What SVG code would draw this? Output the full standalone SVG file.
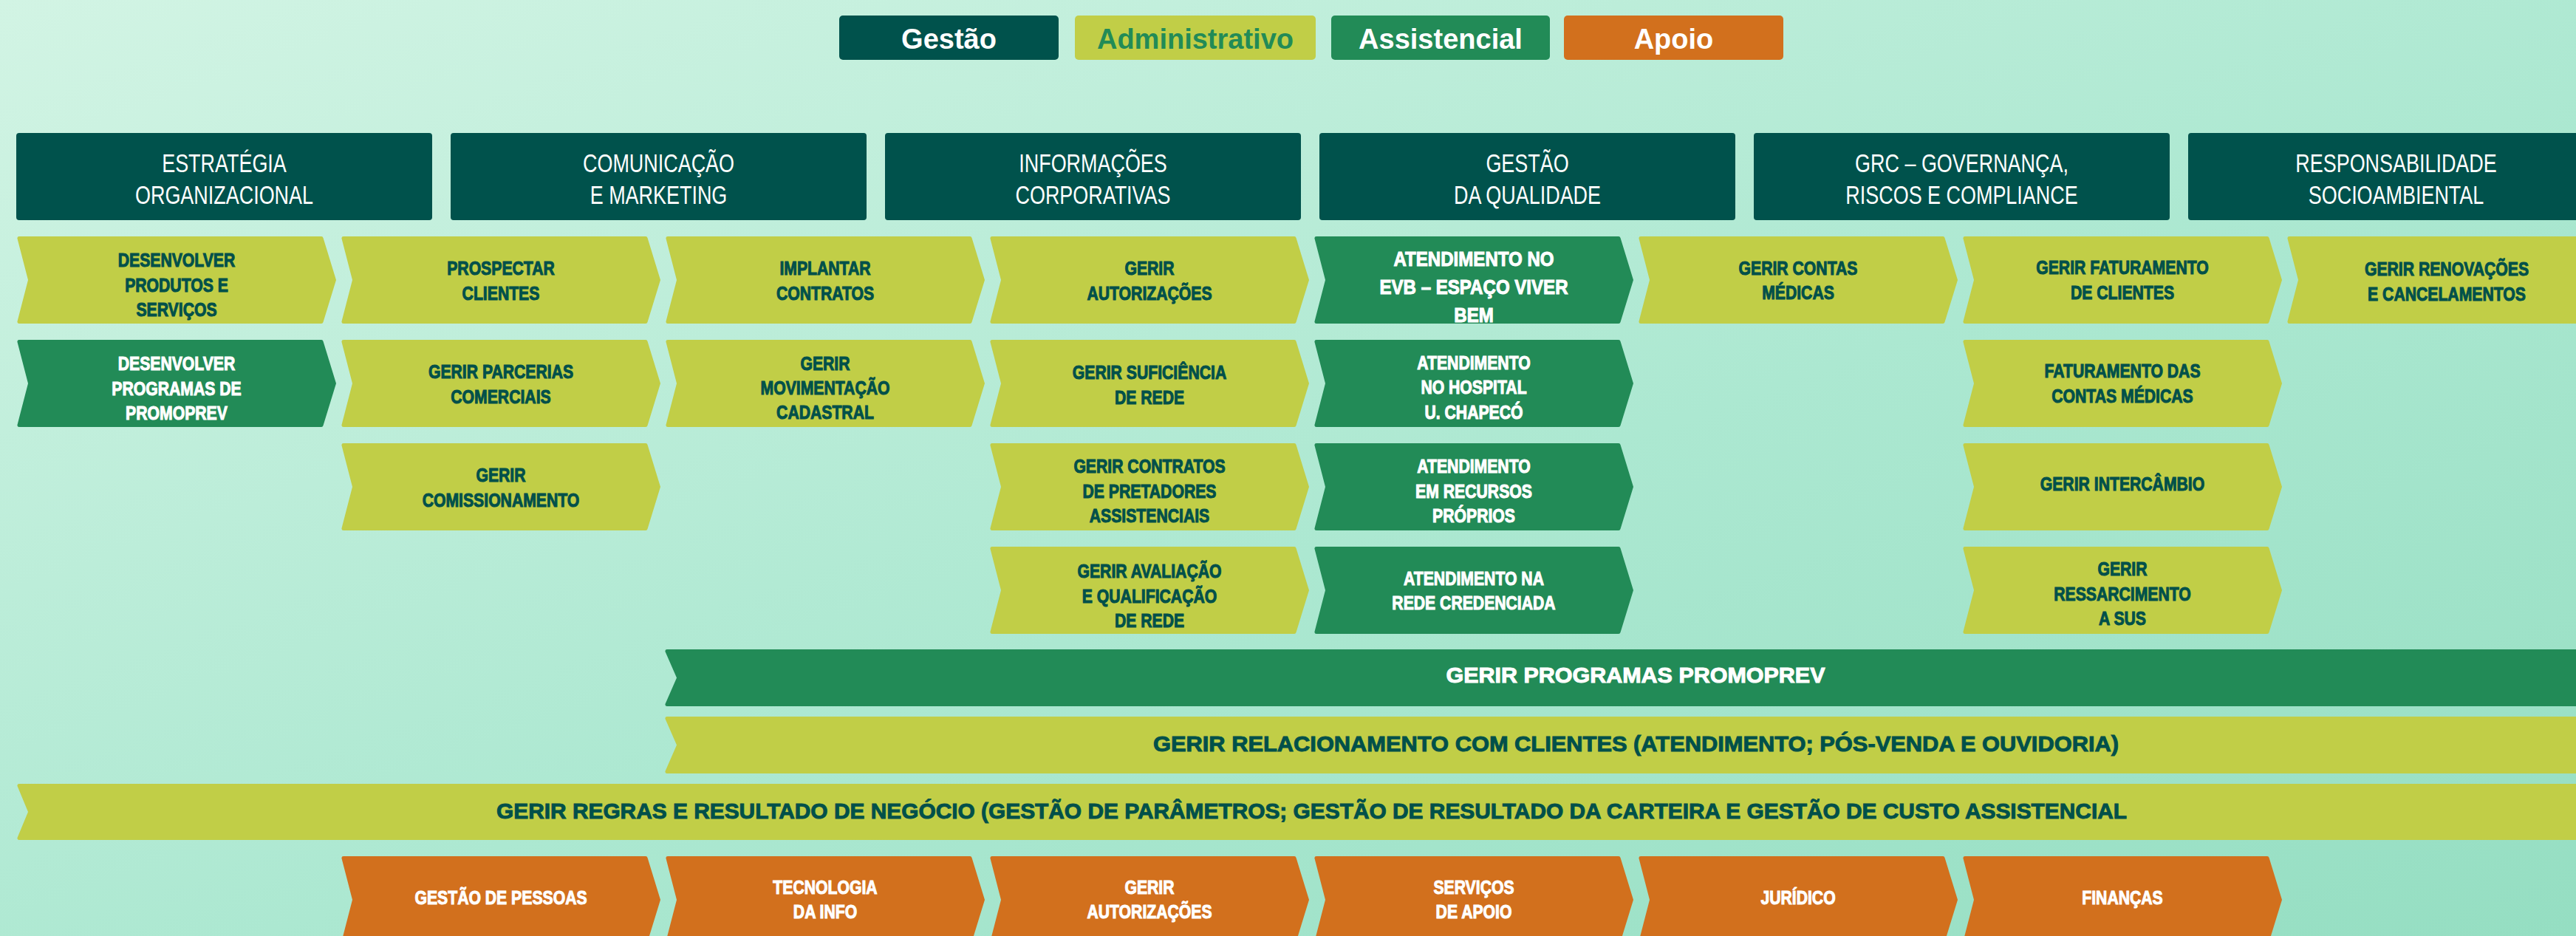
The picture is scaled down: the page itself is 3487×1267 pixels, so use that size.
<svg xmlns="http://www.w3.org/2000/svg" xmlns:xlink="http://www.w3.org/1999/xlink" width="3487" height="1267" viewBox="0 0 3487 1267">
<defs>
<linearGradient id="bg" x1="0" y1="0" x2="1" y2="1">
<stop offset="0" stop-color="#d2f4e4"/>
<stop offset="0.55" stop-color="#ace8d1"/>
<stop offset="1" stop-color="#95dec2"/>
</linearGradient>
<path id="chev" d="M3,0 H412 Q414,0 414.5,2 L432,59 L414.5,116 Q414,118 412,118 H3 Q0,118 0.5,115 L15,59 L0.5,3 Q0,0 3,0 Z"/>
<style>
.gest{fill:#00524c}
.adm{fill:#c1ce47}
.ass{fill:#228b57}
.apo{fill:#d2701d}
.lg{font-family:"Liberation Sans",Arial,sans-serif;font-weight:bold;font-size:38px;text-anchor:middle}
.hd{font-family:"Liberation Sans",Arial,sans-serif;font-size:35px;fill:#ffffff;text-anchor:middle}
.ct{font-family:"Liberation Sans",Arial,sans-serif;font-weight:bold;font-size:26.5px;text-anchor:middle;stroke-width:1.1px}
.bt{font-family:"Liberation Sans",Arial,sans-serif;font-weight:bold;font-size:30px;text-anchor:middle;stroke-width:1px}
.dk{fill:#01504a;stroke:#01504a}
.wh{fill:#ffffff;stroke:#ffffff}
.lg.wh{stroke:none}
</style>
</defs>
<rect x="0" y="0" width="3487" height="1267" fill="url(#bg)"/>

<g id="legend">
<g id="legend-gestao"><rect class="gest" x="1136" y="21" width="297" height="60" rx="5"/><text class="lg wh" x="1284.5" y="66">Gestão</text></g>
<g id="legend-administrativo"><rect class="adm" x="1455" y="21" width="326" height="60" rx="5"/><text class="lg" fill="#228b57" x="1618" y="66">Administrativo</text></g>
<g id="legend-assistencial"><rect class="ass" x="1802" y="21" width="296" height="60" rx="5"/><text class="lg wh" x="1950" y="66">Assistencial</text></g>
<g id="legend-apoio"><rect class="apo" x="2117" y="21" width="297" height="60" rx="5"/><text class="lg wh" x="2265.5" y="66">Apoio</text></g>
</g>

<g id="headers">
<g id="h-estrategia"><rect class="gest" x="22" y="180" width="563" height="118" rx="4"/><g transform="translate(303.5 0) scale(0.77 1)"><text class="hd"><tspan x="0" y="233">ESTRATÉGIA</tspan><tspan x="0" y="276">ORGANIZACIONAL</tspan></text></g></g>
<g id="h-comunicacao"><rect class="gest" x="610" y="180" width="563" height="118" rx="4"/><g transform="translate(891.5 0) scale(0.77 1)"><text class="hd"><tspan x="0" y="233">COMUNICAÇÃO</tspan><tspan x="0" y="276">E MARKETING</tspan></text></g></g>
<g id="h-informacoes"><rect class="gest" x="1198" y="180" width="563" height="118" rx="4"/><g transform="translate(1479.5 0) scale(0.77 1)"><text class="hd"><tspan x="0" y="233">INFORMAÇÕES</tspan><tspan x="0" y="276">CORPORATIVAS</tspan></text></g></g>
<g id="h-qualidade"><rect class="gest" x="1786" y="180" width="563" height="118" rx="4"/><g transform="translate(2067.5 0) scale(0.77 1)"><text class="hd"><tspan x="0" y="233">GESTÃO</tspan><tspan x="0" y="276">DA QUALIDADE</tspan></text></g></g>
<g id="h-grc"><rect class="gest" x="2374" y="180" width="563" height="118" rx="4"/><g transform="translate(2655.5 0) scale(0.77 1)"><text class="hd"><tspan x="0" y="233">GRC – GOVERNANÇA,</tspan><tspan x="0" y="276">RISCOS E COMPLIANCE</tspan></text></g></g>
<g id="h-responsabilidade"><rect class="gest" x="2962" y="180" width="563" height="118" rx="4"/><g transform="translate(3243.5 0) scale(0.77 1)"><text class="hd"><tspan x="0" y="233">RESPONSABILIDADE</tspan><tspan x="0" y="276">SOCIOAMBIENTAL</tspan></text></g></g>
</g>

<g id="processes">
<g id="p-desenvolver-produtos"><use href="#chev" class="adm" x="23" y="320"/><g transform="translate(239 0) scale(0.8 1)"><text class="ct dk"><tspan x="0" y="361">DESENVOLVER</tspan><tspan x="0" y="395">PRODUTOS E</tspan><tspan x="0" y="428">SERVIÇOS</tspan></text></g></g>
<g id="p-desenvolver-programas"><use href="#chev" class="ass" x="23" y="460"/><g transform="translate(239 0) scale(0.8 1)"><text class="ct wh"><tspan x="0" y="501">DESENVOLVER</tspan><tspan x="0" y="535">PROGRAMAS DE</tspan><tspan x="0" y="568">PROMOPREV</tspan></text></g></g>

<g id="p-prospectar"><use href="#chev" class="adm" x="462" y="320"/><g transform="translate(678 0) scale(0.8 1)"><text class="ct dk"><tspan x="0" y="372">PROSPECTAR</tspan><tspan x="0" y="406">CLIENTES</tspan></text></g></g>
<g id="p-parcerias"><use href="#chev" class="adm" x="462" y="460"/><g transform="translate(678 0) scale(0.8 1)"><text class="ct dk"><tspan x="0" y="512">GERIR PARCERIAS</tspan><tspan x="0" y="546">COMERCIAIS</tspan></text></g></g>
<g id="p-comissionamento"><use href="#chev" class="adm" x="462" y="600"/><g transform="translate(678 0) scale(0.8 1)"><text class="ct dk"><tspan x="0" y="652">GERIR</tspan><tspan x="0" y="686">COMISSIONAMENTO</tspan></text></g></g>

<g id="p-implantar"><use href="#chev" class="adm" x="901" y="320"/><g transform="translate(1117 0) scale(0.8 1)"><text class="ct dk"><tspan x="0" y="372">IMPLANTAR</tspan><tspan x="0" y="406">CONTRATOS</tspan></text></g></g>
<g id="p-movimentacao"><use href="#chev" class="adm" x="901" y="460"/><g transform="translate(1117 0) scale(0.8 1)"><text class="ct dk"><tspan x="0" y="501">GERIR</tspan><tspan x="0" y="534">MOVIMENTAÇÃO</tspan><tspan x="0" y="567">CADASTRAL</tspan></text></g></g>

<g id="p-autorizacoes"><use href="#chev" class="adm" x="1340" y="320"/><g transform="translate(1556 0) scale(0.8 1)"><text class="ct dk"><tspan x="0" y="372">GERIR</tspan><tspan x="0" y="406">AUTORIZAÇÕES</tspan></text></g></g>
<g id="p-suficiencia"><use href="#chev" class="adm" x="1340" y="460"/><g transform="translate(1556 0) scale(0.8 1)"><text class="ct dk"><tspan x="0" y="513">GERIR SUFICIÊNCIA</tspan><tspan x="0" y="547">DE REDE</tspan></text></g></g>
<g id="p-contratos-prestadores"><use href="#chev" class="adm" x="1340" y="600"/><g transform="translate(1556 0) scale(0.8 1)"><text class="ct dk"><tspan x="0" y="640">GERIR CONTRATOS</tspan><tspan x="0" y="674">DE PRETADORES</tspan><tspan x="0" y="707">ASSISTENCIAIS</tspan></text></g></g>
<g id="p-avaliacao"><use href="#chev" class="adm" x="1340" y="740"/><g transform="translate(1556 0) scale(0.8 1)"><text class="ct dk"><tspan x="0" y="782">GERIR AVALIAÇÃO</tspan><tspan x="0" y="816">E QUALIFICAÇÃO</tspan><tspan x="0" y="849">DE REDE</tspan></text></g></g>

<g id="p-evb"><use href="#chev" class="ass" x="1779" y="320"/><g transform="translate(1995 0) scale(0.86 1)"><text class="ct wh" style="font-size:28px"><tspan x="0" y="360">ATENDIMENTO NO</tspan><tspan x="0" y="398">EVB – ESPAÇO VIVER</tspan><tspan x="0" y="436">BEM</tspan></text></g></g>
<g id="p-hospital"><use href="#chev" class="ass" x="1779" y="460"/><g transform="translate(1995 0) scale(0.8 1)"><text class="ct wh"><tspan x="0" y="500">ATENDIMENTO</tspan><tspan x="0" y="533">NO HOSPITAL</tspan><tspan x="0" y="567">U. CHAPECÓ</tspan></text></g></g>
<g id="p-recursos"><use href="#chev" class="ass" x="1779" y="600"/><g transform="translate(1995 0) scale(0.8 1)"><text class="ct wh"><tspan x="0" y="640">ATENDIMENTO</tspan><tspan x="0" y="674">EM RECURSOS</tspan><tspan x="0" y="707">PRÓPRIOS</tspan></text></g></g>
<g id="p-rede-credenciada"><use href="#chev" class="ass" x="1779" y="740"/><g transform="translate(1995 0) scale(0.8 1)"><text class="ct wh"><tspan x="0" y="792">ATENDIMENTO NA</tspan><tspan x="0" y="825">REDE CREDENCIADA</tspan></text></g></g>

<g id="p-contas-medicas"><use href="#chev" class="adm" x="2218" y="320"/><g transform="translate(2434 0) scale(0.8 1)"><text class="ct dk"><tspan x="0" y="372">GERIR CONTAS</tspan><tspan x="0" y="405">MÉDICAS</tspan></text></g></g>

<g id="p-faturamento-clientes"><use href="#chev" class="adm" x="2657" y="320"/><g transform="translate(2873 0) scale(0.8 1)"><text class="ct dk"><tspan x="0" y="371">GERIR FATURAMENTO</tspan><tspan x="0" y="405">DE CLIENTES</tspan></text></g></g>
<g id="p-faturamento-contas"><use href="#chev" class="adm" x="2657" y="460"/><g transform="translate(2873 0) scale(0.8 1)"><text class="ct dk"><tspan x="0" y="511">FATURAMENTO DAS</tspan><tspan x="0" y="545">CONTAS MÉDICAS</tspan></text></g></g>
<g id="p-intercambio"><use href="#chev" class="adm" x="2657" y="600"/><g transform="translate(2873 0) scale(0.8 1)"><text class="ct dk"><tspan x="0" y="664">GERIR INTERCÂMBIO</tspan></text></g></g>
<g id="p-ressarcimento"><use href="#chev" class="adm" x="2657" y="740"/><g transform="translate(2873 0) scale(0.8 1)"><text class="ct dk"><tspan x="0" y="779">GERIR</tspan><tspan x="0" y="813">RESSARCIMENTO</tspan><tspan x="0" y="846">A SUS</tspan></text></g></g>

<g id="p-renovacoes"><use href="#chev" class="adm" x="3096" y="320"/><g transform="translate(3312 0) scale(0.8 1)"><text class="ct dk"><tspan x="0" y="373">GERIR RENOVAÇÕES</tspan><tspan x="0" y="407">E CANCELAMENTOS</tspan></text></g></g>
</g>

<g id="bands">
<g id="b-promoprev"><path class="ass" d="M903,879 H3540 V956 H903 Q900,956 900.5,953 L916,917.5 L900.5,882 Q900,879 903,879 Z"/><text class="bt wh" x="2214" y="924" textLength="513" lengthAdjust="spacingAndGlyphs">GERIR PROGRAMAS PROMOPREV</text></g>
<g id="b-relacionamento"><path class="adm" d="M903,970 H3540 V1047 H903 Q900,1047 900.5,1044 L916,1008.5 L900.5,973 Q900,970 903,970 Z"/><text class="bt dk" x="2214.5" y="1017" textLength="1307" lengthAdjust="spacingAndGlyphs">GERIR RELACIONAMENTO COM CLIENTES (ATENDIMENTO; PÓS-VENDA E OUVIDORIA)</text></g>
<g id="b-regras"><path class="adm" d="M26,1061 H3540 V1137 H26 Q23,1137 23.5,1134 L38,1099 L23.5,1064 Q23,1061 26,1061 Z"/><text class="bt dk" x="1775.5" y="1108" textLength="2207" lengthAdjust="spacingAndGlyphs">GERIR REGRAS E RESULTADO DE NEGÓCIO (GESTÃO DE PARÂMETROS; GESTÃO DE RESULTADO DA CARTEIRA E GESTÃO DE CUSTO ASSISTENCIAL</text></g>
</g>

<g id="support">
<g id="s-pessoas"><use href="#chev" class="apo" x="462" y="1159"/><g transform="translate(678 0) scale(0.8 1)"><text class="ct wh"><tspan x="0" y="1224">GESTÃO DE PESSOAS</tspan></text></g></g>
<g id="s-tecnologia"><use href="#chev" class="apo" x="901" y="1159"/><g transform="translate(1117 0) scale(0.8 1)"><text class="ct wh"><tspan x="0" y="1210">TECNOLOGIA</tspan><tspan x="0" y="1243">DA INFO</tspan></text></g></g>
<g id="s-autorizacoes"><use href="#chev" class="apo" x="1340" y="1159"/><g transform="translate(1556 0) scale(0.8 1)"><text class="ct wh"><tspan x="0" y="1210">GERIR</tspan><tspan x="0" y="1243">AUTORIZAÇÕES</tspan></text></g></g>
<g id="s-servicos"><use href="#chev" class="apo" x="1779" y="1159"/><g transform="translate(1995 0) scale(0.8 1)"><text class="ct wh"><tspan x="0" y="1210">SERVIÇOS</tspan><tspan x="0" y="1243">DE APOIO</tspan></text></g></g>
<g id="s-juridico"><use href="#chev" class="apo" x="2218" y="1159"/><g transform="translate(2434 0) scale(0.8 1)"><text class="ct wh"><tspan x="0" y="1224">JURÍDICO</tspan></text></g></g>
<g id="s-financas"><use href="#chev" class="apo" x="2657" y="1159"/><g transform="translate(2873 0) scale(0.8 1)"><text class="ct wh"><tspan x="0" y="1224">FINANÇAS</tspan></text></g></g>
</g>

<g id="connectors"></g>
</svg>
